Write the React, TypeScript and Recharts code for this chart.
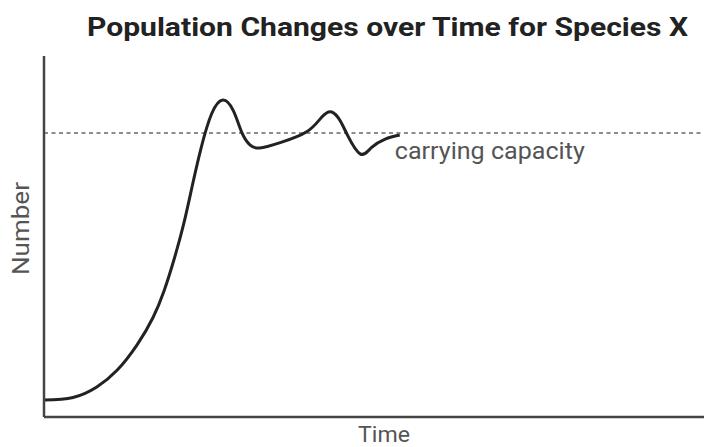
import { LineChart, Line, XAxis, YAxis, ReferenceLine, ReferenceDot, Label } from 'recharts';

// values (arbitrary units, 0-100 on both axes)
const times = [0, 4.4, 8, 11.1, 14.1, 16.5, 18.2, 19.6, 21.1, 22.4, 23.8, 25.4, 27.1, 28.7, 30.0, 31.2, 32.7, 35.8, 39.8, 42.1, 43.6, 44.9, 46.0, 47.9, 49.6, 51.7, 53.9];
const numbers = [4.7, 5.4, 8.3, 13.0, 20.0, 27.5, 35.0, 43.0, 53.0, 63.5, 74.5, 84.0, 87.8, 84.8, 78.7, 75.4, 74.5, 76.0, 79.0, 83.1, 84.5, 82.0, 78.0, 72.9, 74.6, 77.0, 78.1];
const carryingCapacity = 78.7;
const capacityLabelAt = 53.3;

const title = 'Population Changes over Time for Species X';
const xLabel = 'Time';
const yLabel = 'Number';
const capacityLabel = 'carrying capacity';

const data = times.map((t, i) => ({ time: t, number: numbers[i] }));

const font = 'Roboto, "Liberation Sans", sans-serif';

const App = () => {
  return (
    <div style={{ position: 'absolute', left: 0, top: 0, width: 704, height: 447, background: '#fff' }}>
      <svg width={704} height={447} style={{ position: 'absolute', left: 0, top: 0, pointerEvents: 'none' }}>
        <text
          x={87}
          y={36}
          fontFamily={font}
          fontWeight="bold"
          fontSize={25}
          fill="#222"
          textLength={601}
          lengthAdjust="spacingAndGlyphs"
        >
          {title}
        </text>
      </svg>
      <LineChart width={704} height={447} data={data} margin={{ top: 56, right: 0, bottom: 0, left: 0 }}>
        <XAxis
          dataKey="time"
          type="number"
          domain={[0, 100]}
          height={30}
          tick={false}
          tickLine={false}
          axisLine={{ stroke: '#444', strokeWidth: 2.5 }}
        >
          <Label
            content={({ viewBox }: any) => (
              <text
                x={viewBox.x + viewBox.width / 2 + 10}
                y={viewBox.y + 25}
                textAnchor="middle"
                fontFamily={font}
                fontSize={22}
                fill="#555"
                textLength={52}
                lengthAdjust="spacingAndGlyphs"
              >
                {xLabel}
              </text>
            )}
          />
        </XAxis>
        <YAxis
          type="number"
          domain={[0, 100]}
          width={44}
          tick={false}
          tickLine={false}
          axisLine={{ stroke: '#444', strokeWidth: 2.5 }}
        >
          <Label
            content={({ viewBox }: any) => {
              const cx = viewBox.x + 29;
              const cy = viewBox.y + viewBox.height / 2 - 8;
              return (
                <text
                  x={cx}
                  y={cy}
                  transform={`rotate(-90, ${cx}, ${cy})`}
                  textAnchor="middle"
                  fontFamily={font}
                  fontSize={24}
                  fill="#555"
                  textLength={93}
                  lengthAdjust="spacingAndGlyphs"
                >
                  {yLabel}
                </text>
              );
            }}
          />
        </YAxis>
        <ReferenceLine y={carryingCapacity} stroke="#666" strokeWidth={1.5} strokeDasharray="4 3.5" />
        <ReferenceDot x={capacityLabelAt} y={carryingCapacity} r={0} fill="none" stroke="none">
          <Label
            content={({ viewBox }: any) => (
              <text
                x={viewBox.x - 1}
                y={viewBox.y + 26}
                fontFamily={font}
                fontSize={23}
                fill="#555"
                textLength={190}
                lengthAdjust="spacingAndGlyphs"
              >
                {capacityLabel}
              </text>
            )}
          />
        </ReferenceDot>
        <Line
          type="natural"
          dataKey="number"
          stroke="#222"
          strokeWidth={3}
          dot={false}
          isAnimationActive={false}
        />
      </LineChart>
    </div>
  );
};

export default App;
